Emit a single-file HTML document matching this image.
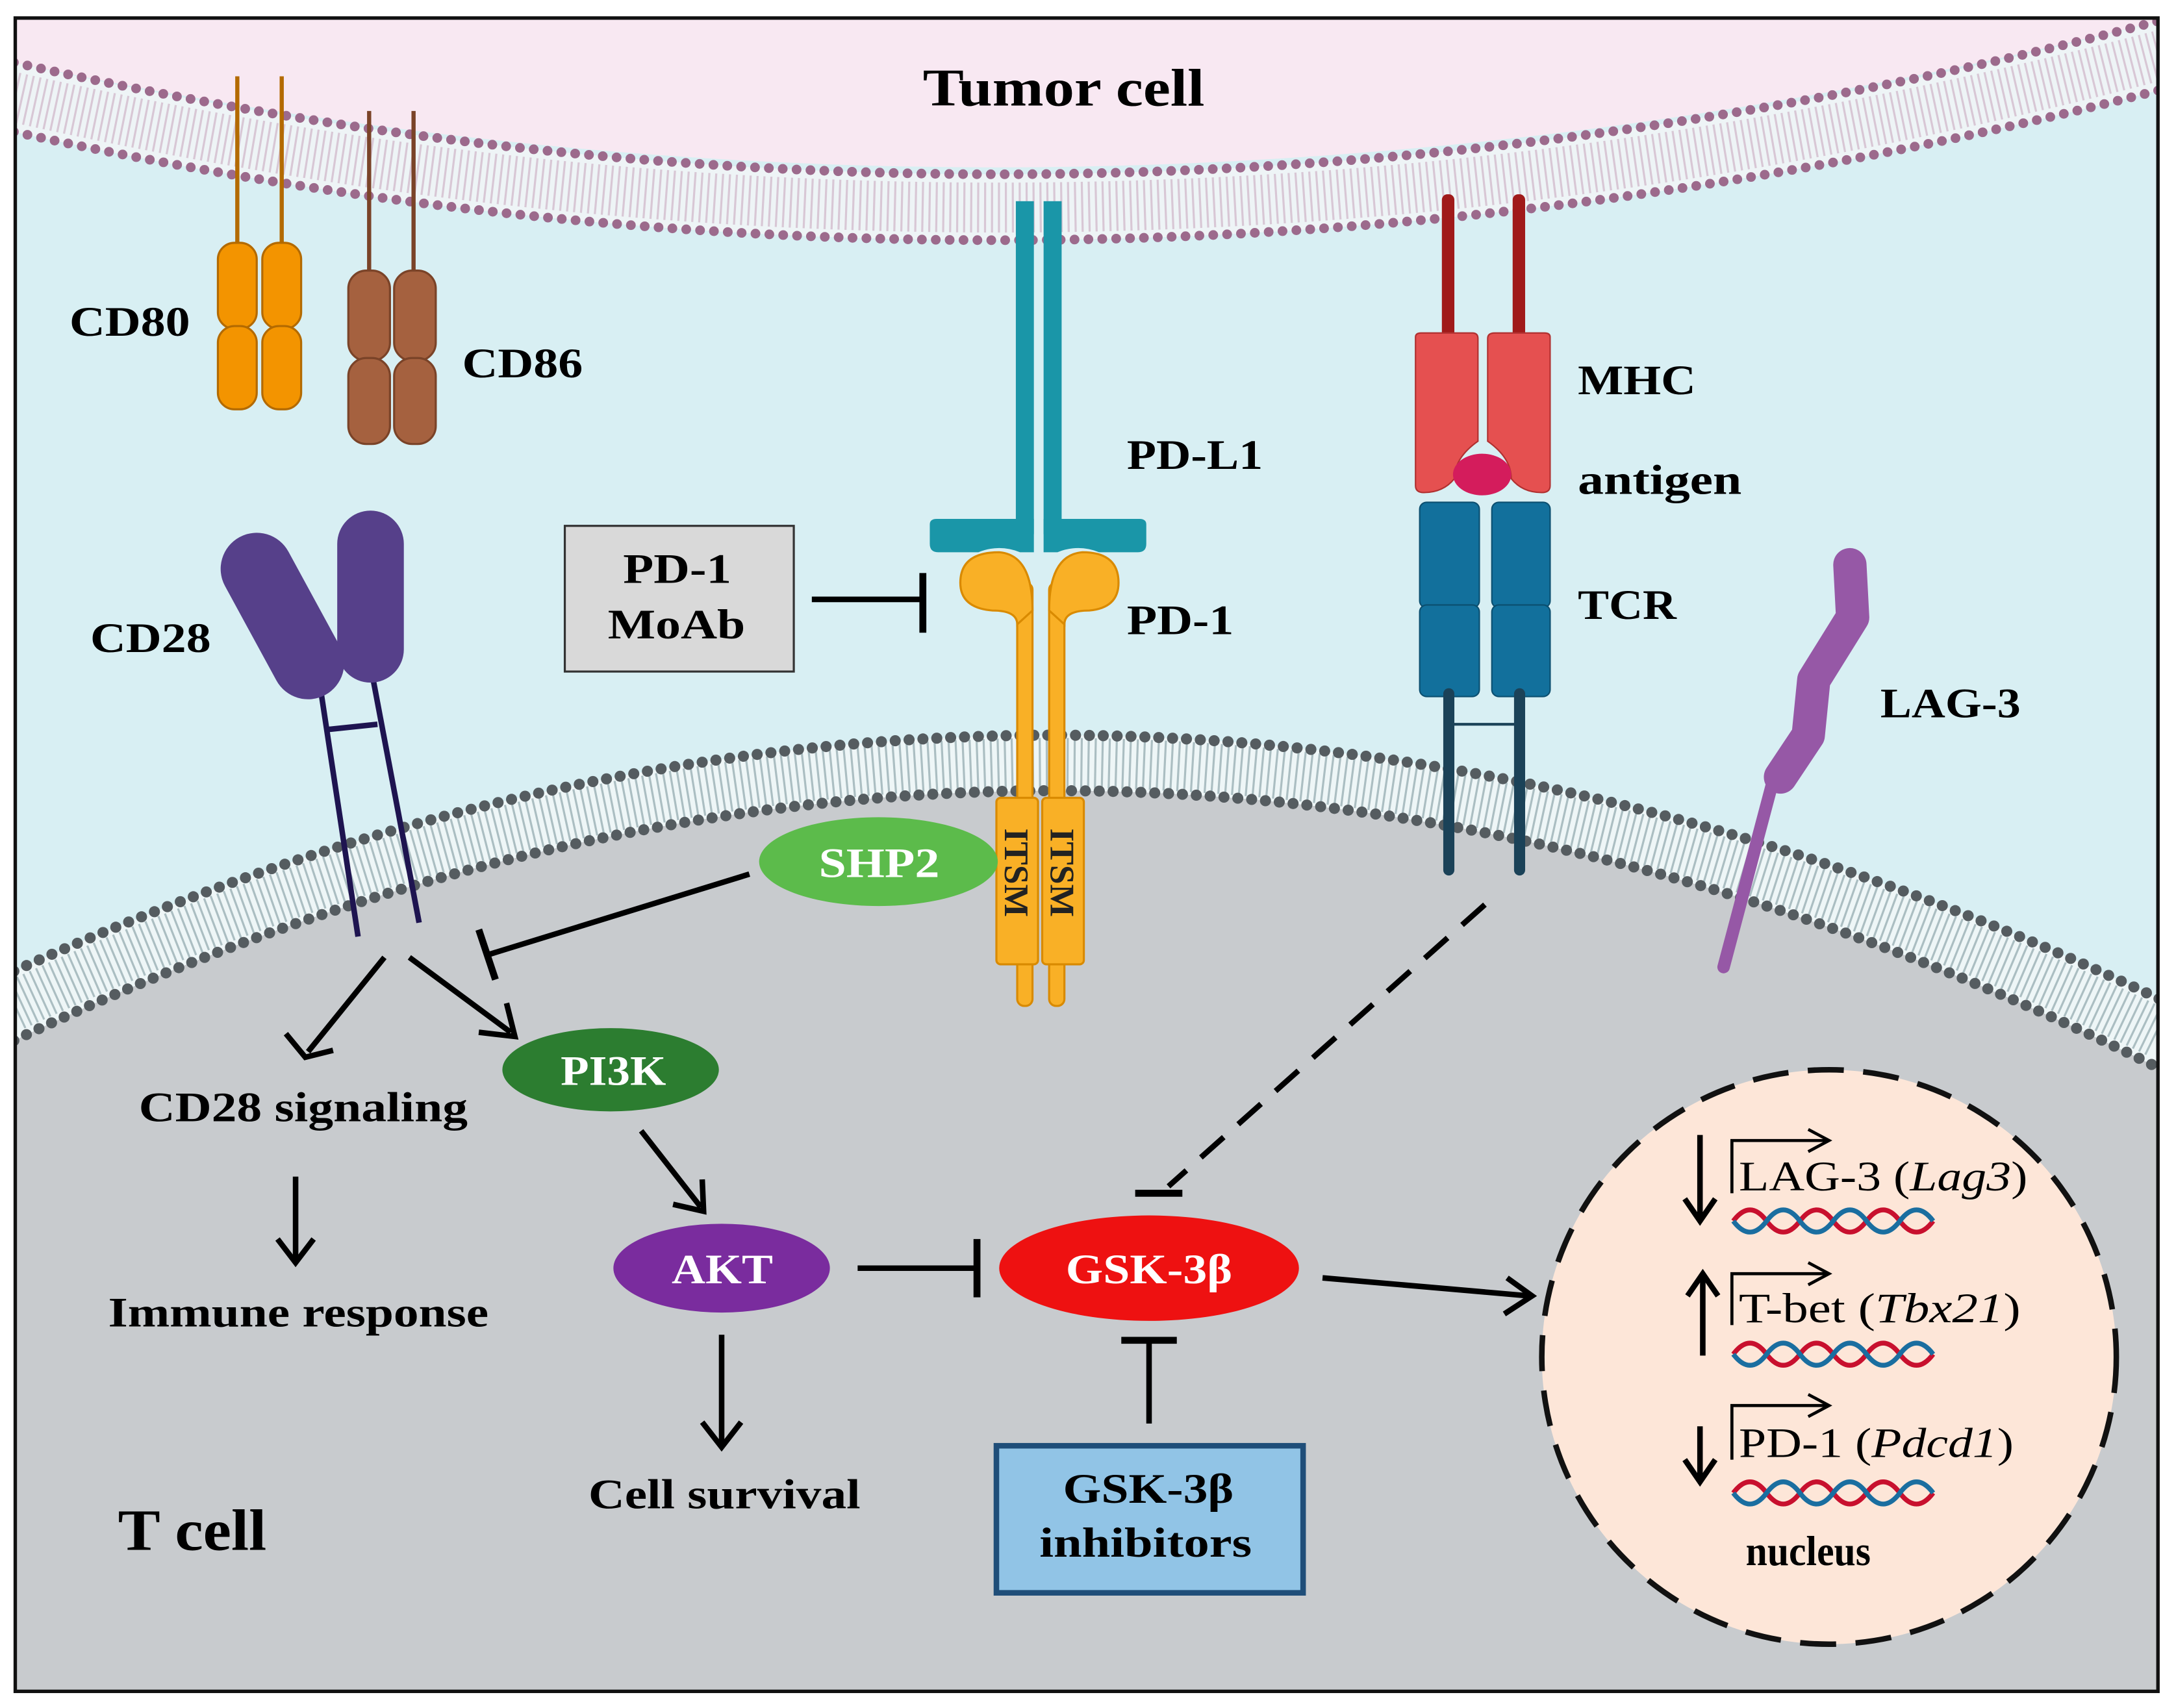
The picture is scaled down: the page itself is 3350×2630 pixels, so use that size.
<!DOCTYPE html>
<html><head><meta charset="utf-8"><style>html,body{margin:0;padding:0;background:#fff}svg{display:block}text{font-family:"Liberation Serif",serif;font-weight:bold}</style></head><body>
<svg width="3350" height="2630" viewBox="0 0 1568 1231" xmlns="http://www.w3.org/2000/svg">
<defs>
<clipPath id="cl"><rect x="10" y="12" width="1546" height="1208"/></clipPath>
</defs>
<g clip-path="url(#cl)">
<rect x="0" y="0" width="1568" height="1231" fill="#d8eff3"/>
<path d="M0,0 L1568,0 L1568,18 L1556,15 Q780,210 10,45 L0,45 Z" fill="#f8e8f2"/>
<path d="M10,45 Q780,220 1556,15 L1556,65 Q780,265 10,95 Z" fill="#eef4f6"/>
<path d="M10,70 Q780,243 1556,40" fill="none" stroke="#c9a9bf" stroke-width="36" stroke-dasharray="1.5 3.5" opacity="0.6"/>
<path d="M10,45 Q780,220 1556,15" fill="none" stroke="#9c6a8c" stroke-width="7" stroke-dasharray="0 10" stroke-linecap="round"/>
<path d="M10,95 Q780,265 1556,65" fill="none" stroke="#9c6a8c" stroke-width="7" stroke-dasharray="0 10" stroke-linecap="round"/>
<path d="M10,750 Q780,380 1556,770 L1568,1231 L0,1231 Z" fill="#c8cbce"/>
<path d="M10,700 Q780,350 1556,720 L1556,770 Q780,380 10,750 Z" fill="#eef6f7"/>
<path d="M10,725 Q780,365 1556,745" fill="none" stroke="#8fa6ab" stroke-width="36" stroke-dasharray="1.5 3.5" opacity="0.7"/>
<path d="M10,700 Q780,350 1556,720" fill="none" stroke="#555c60" stroke-width="8" stroke-dasharray="0 10" stroke-linecap="round"/>
<path d="M10,750 Q780,380 1556,770" fill="none" stroke="#555c60" stroke-width="8" stroke-dasharray="0 10" stroke-linecap="round"/>
</g>
<rect x="11" y="13" width="1544" height="1206" fill="none" stroke="#111" stroke-width="2.5"/>

<text x="665" y="76" font-size="38" textLength="203" lengthAdjust="spacingAndGlyphs">Tumor cell</text>
<text x="85" y="1117" font-size="42" textLength="107" lengthAdjust="spacingAndGlyphs">T cell</text>

<!-- CD80 -->
<g stroke="#b36a00" stroke-width="1.5">
<line x1="171" y1="55" x2="171" y2="178" stroke-width="3"/>
<line x1="203" y1="55" x2="203" y2="178" stroke-width="3"/>
<rect x="157" y="175" width="28" height="62" rx="12" fill="#f39400"/>
<rect x="157" y="235" width="28" height="60" rx="12" fill="#f39400"/>
<rect x="189" y="175" width="28" height="62" rx="12" fill="#f39400"/>
<rect x="189" y="235" width="28" height="60" rx="12" fill="#f39400"/>
</g>
<text x="50" y="242" font-size="30" textLength="87" lengthAdjust="spacingAndGlyphs">CD80</text>
<!-- CD86 -->
<g stroke="#7a4328" stroke-width="1.5">
<line x1="266" y1="80" x2="266" y2="198" stroke-width="3"/>
<line x1="298" y1="80" x2="298" y2="198" stroke-width="3"/>
<rect x="251" y="195" width="30" height="65" rx="13" fill="#a5613f"/>
<rect x="251" y="258" width="30" height="62" rx="13" fill="#a5613f"/>
<rect x="284" y="195" width="30" height="65" rx="13" fill="#a5613f"/>
<rect x="284" y="258" width="30" height="62" rx="13" fill="#a5613f"/>
</g>
<text x="333" y="272" font-size="30" textLength="87" lengthAdjust="spacingAndGlyphs">CD86</text>
<!-- CD28 -->
<line x1="230" y1="490" x2="258" y2="675" stroke="#1e1450" stroke-width="4"/>
<line x1="268" y1="485" x2="302" y2="665" stroke="#1e1450" stroke-width="4"/>
<line x1="234" y1="526" x2="272" y2="522" stroke="#1e1450" stroke-width="4"/>
<line x1="185" y1="410" x2="222" y2="478" stroke="#56408a" stroke-width="52" stroke-linecap="round"/>
<line x1="267" y1="392" x2="267" y2="468" stroke="#56408a" stroke-width="48" stroke-linecap="round"/>
<text x="65" y="470" font-size="30" textLength="87" lengthAdjust="spacingAndGlyphs">CD28</text>

<!-- PD-L1 -->
<rect x="732" y="145" width="13" height="240" fill="#1a96a8"/>
<rect x="752" y="145" width="13" height="240" fill="#1a96a8"/>
<path d="M670,378 Q670,374 675,374 L745,374 L745,398 L735,398 Q720,392 705,398 L676,398 Q670,398 670,392Z" fill="#1a96a8"/>
<path d="M826,378 Q826,374 821,374 L752,374 L752,398 L762,398 Q777,392 792,398 L820,398 Q826,398 826,392Z" fill="#1a96a8"/>
<text x="812" y="338" font-size="30" textLength="98" lengthAdjust="spacingAndGlyphs">PD-L1</text>
<!-- PD-1 -->
<g fill="#f9b026" stroke="#d98a00" stroke-width="1.5">
<rect x="733" y="420" width="11" height="305" rx="5"/>
<rect x="756" y="420" width="11" height="305" rx="5"/>
<path d="M744,440 Q744,400 720,398 Q692,398 692,420 Q692,438 715,440 Q733,440 733,450 Z"/>
<path d="M756,440 Q756,400 780,398 Q806,398 806,420 Q806,438 785,440 Q767,440 767,450 Z"/>
<rect x="718" y="575" width="30" height="120" rx="3"/>
<rect x="751" y="575" width="30" height="120" rx="3"/>
</g>
<text transform="translate(724,597) rotate(90)" font-size="25" fill="#222">ITSM</text>
<text transform="translate(757,597) rotate(90)" font-size="25" fill="#222">ITSM</text>
<text x="812" y="457" font-size="30" textLength="77" lengthAdjust="spacingAndGlyphs">PD-1</text>

<!-- MoAb -->
<rect x="407" y="379" width="165" height="105" fill="#d9d9d9" stroke="#333" stroke-width="1.5"/>
<text x="449" y="420" font-size="30" textLength="78" lengthAdjust="spacingAndGlyphs">PD-1</text>
<text x="438" y="460" font-size="30" textLength="99" lengthAdjust="spacingAndGlyphs">MoAb</text>
<line x1="585" y1="432" x2="665" y2="432" stroke="#000" stroke-width="4"/>
<line x1="665" y1="413" x2="665" y2="456" stroke="#000" stroke-width="5"/>

<!-- MHC / TCR -->
<rect x="1039" y="140" width="9" height="105" rx="4" fill="#a01a1a"/>
<rect x="1090" y="140" width="9" height="105" rx="4" fill="#a01a1a"/>
<path d="M1020,243 Q1020,240 1024,240 L1061,240 Q1065,240 1065,244 L1065,318 Q1048,330 1048,345 Q1040,355 1026,355 Q1020,355 1020,350Z" fill="#e55050" stroke="#b03030" stroke-width="1"/>
<path d="M1117,243 Q1117,240 1113,240 L1077,240 Q1072,240 1072,244 L1072,318 Q1089,330 1089,345 Q1097,355 1111,355 Q1117,355 1117,350Z" fill="#e55050" stroke="#b03030" stroke-width="1"/>
<ellipse cx="1068" cy="342" rx="21" ry="15" fill="#d41c5c"/>
<rect x="1023" y="362" width="43" height="76" rx="5" fill="#12709c" stroke="#0b4f70"/>
<rect x="1023" y="436" width="43" height="66" rx="5" fill="#12709c" stroke="#0b4f70"/>
<rect x="1075" y="362" width="42" height="76" rx="5" fill="#12709c" stroke="#0b4f70"/>
<rect x="1075" y="436" width="42" height="66" rx="5" fill="#12709c" stroke="#0b4f70"/>
<line x1="1044" y1="500" x2="1044" y2="627" stroke="#1b4258" stroke-width="8" stroke-linecap="round"/>
<line x1="1095" y1="500" x2="1095" y2="627" stroke="#1b4258" stroke-width="8" stroke-linecap="round"/>
<line x1="1044" y1="522" x2="1095" y2="522" stroke="#1b4258" stroke-width="2"/>
<text x="1137" y="284" font-size="30" textLength="85" lengthAdjust="spacingAndGlyphs">MHC</text>
<text x="1137" y="356" font-size="30" textLength="118" lengthAdjust="spacingAndGlyphs">antigen</text>
<text x="1137" y="446" font-size="30" textLength="71" lengthAdjust="spacingAndGlyphs">TCR</text>

<!-- LAG-3 -->
<polyline points="1333,407 1335,445 1307,490 1303,530 1283,560" fill="none" stroke="#9658a6" stroke-width="24" stroke-linecap="round" stroke-linejoin="round"/>
<line x1="1277" y1="565" x2="1242" y2="697" stroke="#9658a6" stroke-width="9" stroke-linecap="round"/>
<text x="1355" y="517" font-size="30" textLength="101" lengthAdjust="spacingAndGlyphs">LAG-3</text>

<!-- ovals -->
<ellipse cx="633" cy="621" rx="86" ry="32" fill="#5cbb4b"/>
<text x="590" y="632" font-size="30" fill="#fff" textLength="87" lengthAdjust="spacingAndGlyphs">SHP2</text>
<ellipse cx="440" cy="771" rx="78" ry="30" fill="#2c7d30"/>
<text x="404" y="782" font-size="30" fill="#fff" textLength="76" lengthAdjust="spacingAndGlyphs">PI3K</text>
<ellipse cx="520" cy="914" rx="78" ry="32" fill="#7a2c9e"/>
<text x="484" y="925" font-size="30" fill="#fff" textLength="73" lengthAdjust="spacingAndGlyphs">AKT</text>
<ellipse cx="828" cy="914" rx="108" ry="38" fill="#ee1111"/>
<text x="768" y="925" font-size="30" fill="#fff" textLength="120" lengthAdjust="spacingAndGlyphs">GSK-3β</text>

<!-- arrows -->
<g stroke="#000" stroke-width="4" fill="none">
<line x1="277" y1="690" x2="222" y2="758"/><polyline points="206,745 220,762 240,757"/>
<line x1="295" y1="690" x2="368" y2="744"/><polyline points="345,744 371,747 365,723"/>
<line x1="540" y1="630" x2="352" y2="688"/><line x1="345" y1="670" x2="357" y2="706" stroke-width="5"/>
<line x1="462" y1="815" x2="505" y2="870"/><polyline points="485,868 507,873 506,850"/>
<line x1="213" y1="848" x2="213" y2="908"/><polyline points="200,893 213,910 226,893"/>
<line x1="520" y1="962" x2="520" y2="1040"/><polyline points="506,1025 520,1043 534,1025"/>
<line x1="618" y1="914" x2="702" y2="914"/><line x1="704" y1="893" x2="704" y2="935" stroke-width="5"/>
<line x1="828" y1="1026" x2="828" y2="968"/><line x1="808" y1="966" x2="848" y2="966" stroke-width="5"/>
<line x1="953" y1="921" x2="1102" y2="934"/><polyline points="1086,921 1104,934 1084,947"/>
<line x1="1070" y1="652" x2="842" y2="855" stroke-dasharray="22 14"/><line x1="818" y1="860" x2="852" y2="860" stroke-width="5"/>
</g>
<text x="100" y="808" font-size="30" textLength="237" lengthAdjust="spacingAndGlyphs">CD28 signaling</text>
<text x="78" y="956" font-size="30" textLength="274" lengthAdjust="spacingAndGlyphs">Immune response</text>
<text x="424" y="1087" font-size="30" textLength="196" lengthAdjust="spacingAndGlyphs">Cell survival</text>

<rect x="718" y="1042" width="221" height="106" fill="#91c4e6" stroke="#1f4e79" stroke-width="4"/>
<text x="766" y="1083" font-size="30" textLength="123" lengthAdjust="spacingAndGlyphs">GSK-3β</text>
<text x="749" y="1122" font-size="30" textLength="153" lengthAdjust="spacingAndGlyphs">inhibitors</text>

<!-- nucleus -->
<circle cx="1318" cy="978" r="207" fill="#fde6d8" stroke="#111" stroke-width="4" stroke-dasharray="26 14"/>
<g stroke="#000" stroke-width="4" fill="none">
<line x1="1225" y1="818" x2="1225" y2="878"/><polyline points="1214,864 1225,880 1236,864"/>
<line x1="1227" y1="977" x2="1227" y2="920"/><polyline points="1216,934 1227,918 1238,934"/>
<line x1="1225" y1="1028" x2="1225" y2="1066"/><polyline points="1214,1052 1225,1068 1236,1052"/>
</g>
<g stroke="#000" stroke-width="2.2" fill="none">
<polyline points="1248,860 1248,822 1318,822"/><polyline points="1303,814 1318,822 1303,830"/>
<polyline points="1248,955 1248,918 1318,918"/><polyline points="1303,910 1318,918 1303,926"/>
<polyline points="1248,1052 1248,1013 1318,1013"/><polyline points="1303,1005 1318,1013 1303,1021"/>
</g>
<text x="1253" y="858" font-size="30" style="font-weight:normal" textLength="208" lengthAdjust="spacingAndGlyphs">LAG-3 (<tspan font-style="italic">Lag3</tspan>)</text>
<text x="1253" y="953" font-size="30" style="font-weight:normal" textLength="203" lengthAdjust="spacingAndGlyphs">T-bet (<tspan font-style="italic">Tbx21</tspan>)</text>
<text x="1253" y="1050" font-size="30" style="font-weight:normal" textLength="198" lengthAdjust="spacingAndGlyphs">PD-1 (<tspan font-style="italic">Pdcd1</tspan>)</text>
<g fill="none" stroke-width="3.5">
<path d="M1249,880 q12,-16 24,0 t24,0 t24,0 t24,0 t24,0 t24,0" stroke="#c8102e"/>
<path d="M1249,880 q12,16 24,0 t24,0 t24,0 t24,0 t24,0 t24,0" stroke="#1a6ea0"/>
<path d="M1249,976 q12,-16 24,0 t24,0 t24,0 t24,0 t24,0 t24,0" stroke="#c8102e"/>
<path d="M1249,976 q12,16 24,0 t24,0 t24,0 t24,0 t24,0 t24,0" stroke="#1a6ea0"/>
<path d="M1249,1076 q12,-16 24,0 t24,0 t24,0 t24,0 t24,0 t24,0" stroke="#c8102e"/>
<path d="M1249,1076 q12,16 24,0 t24,0 t24,0 t24,0 t24,0 t24,0" stroke="#1a6ea0"/>
</g>
<text x="1258" y="1128" font-size="30" textLength="90" lengthAdjust="spacingAndGlyphs">nucleus</text>
</svg>
</body></html>
